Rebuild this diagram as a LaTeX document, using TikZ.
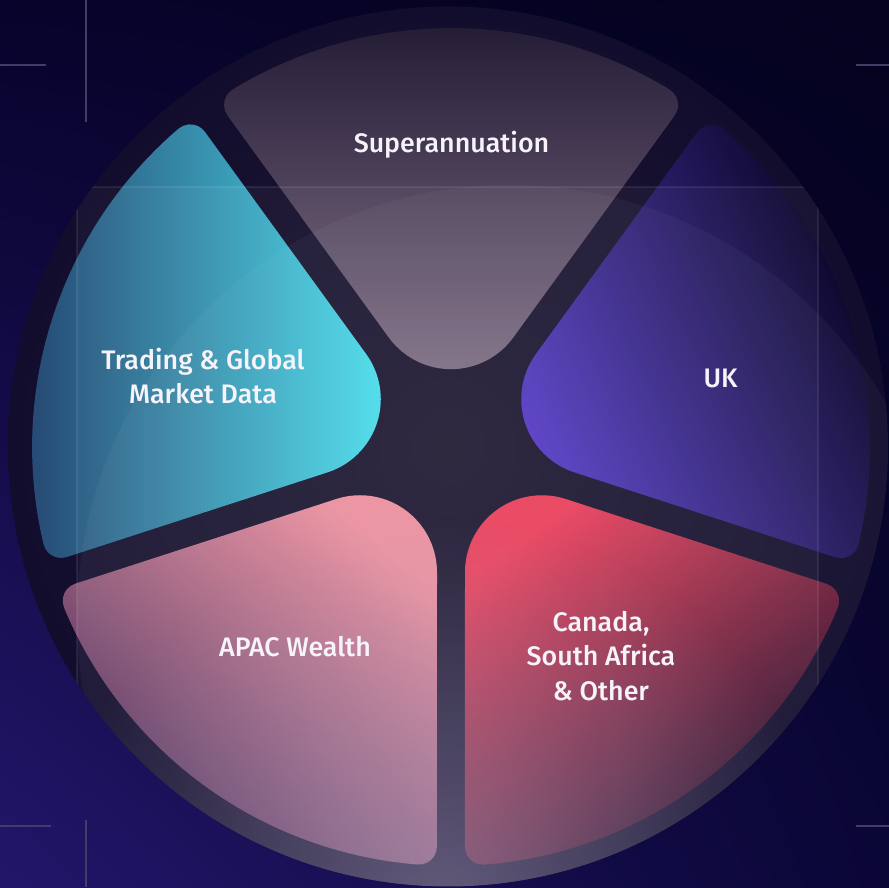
\documentclass[tikz,border=0pt]{standalone}
\usepackage{fontspec}
\setmainfont{Liberation Sans}
\newfontfamily\lblfont{Fira Sans Medium}
\usetikzlibrary{fadings,shadings}
\definecolor{bgTL}{HTML}{07032B}
\definecolor{bgTR}{HTML}{04021E}
\definecolor{bgBL}{HTML}{22166A}
\definecolor{bgBR}{HTML}{0A0636}
\definecolor{discIn}{HTML}{221B33}
\definecolor{discOut}{HTML}{120D2D}
\definecolor{glowc}{HTML}{A498BC}
\definecolor{markc}{HTML}{423C66}
\definecolor{supTop}{HTML}{201832}
\definecolor{supBot}{HTML}{7E6E84}
\definecolor{trdL}{HTML}{24406C}
\definecolor{trdR}{HTML}{4ADDEC}
\definecolor{ukDark}{HTML}{04021A}
\definecolor{ukMid}{HTML}{221858}
\definecolor{ukBright}{HTML}{553BC4}
\definecolor{apBright}{HTML}{EC909F}
\definecolor{apDark}{HTML}{4A2E5C}
\definecolor{caBright}{HTML}{EA405C}
\definecolor{caMid}{HTML}{8A3052}
\definecolor{caDark}{HTML}{140B28}
\definecolor{txtc}{HTML}{F6F3FA}
\tikzfading[name=glowfade, inner color=transparent!50, outer color=transparent!100]
\newcommand\wedgepath[1]{({#1-29.62}:126.03) -- ({#1-34.01}:399.96)
  arc[start angle={#1-126}, end angle={#1-31.42}, radius=18]
  arc[start angle={#1-31.42}, end angle={#1+31.42}, radius=419]
  arc[start angle={#1+31.42}, end angle={#1+126}, radius=18]
  -- ({#1+29.62}:126.03)
  arc[start angle={#1+126}, end angle={#1+234}, radius=77] -- cycle}
\tikzset{
  lbl/.style={text=txtc, font=\lblfont\fontsize{26.8}{34.5}\selectfont, align=center, anchor=base, inner sep=0pt},
  cornerline/.style={draw=markc, line width=1.5pt},
}
\begin{document}
\begin{tikzpicture}[x=1pt,y=1pt]
\useasboundingbox (0,0) rectangle (889,887);
\shade[upper left=bgTL, upper right=bgTR, lower left=bgBL, lower right=bgBR] (0,0) rectangle (889,887);
% corner marks
\draw[cornerline] (0,822) -- (46,822);
\draw[cornerline] (86,887) -- (86,765);
\draw[cornerline] (856,822) -- (889,822);
\draw[cornerline] (0,61) -- (51,61);
\draw[cornerline] (86,67) -- (86,0);
\draw[cornerline] (856,61) -- (889,61);
% big disc
\shade[inner color=discIn, outer color=discOut] (448,440.5) circle (440);
% wedges
\begin{scope}[shift={(451,440)}]
\shade[top color=supTop, bottom color=supBot] \wedgepath{90};
\shade[left color=trdL, right color=trdR] \wedgepath{162};
\shade[top color=ukDark, middle color=ukMid, bottom color=ukBright, shading angle=-65] \wedgepath{18};
\shade[top color=apBright, bottom color=apDark, shading angle=-40] \wedgepath{234};
\shade[top color=caBright, middle color=caMid, bottom color=caDark, shading angle=35] \wedgepath{306};
\end{scope}
% overlays
\begin{scope}
\clip (448,440.5) circle (440);
\fill[glowc, path fading=glowfade] (440,-30) circle (400);
\fill[white, opacity=0.035] (510,269) circle (433);
\fill[white, opacity=0.03] (77,700) rectangle (818,-10);
\draw[white, opacity=0.08, line width=1.5pt] (77,-10) -- (77,700) -- (818,700) -- (818,-10);
\end{scope}
% labels
\node[lbl] (sup) at (451.5,734) {Superannuation};
\node[lbl] (trd) at (203,483) {Trading \& Global\\Market Data};
\node[lbl] (uk) at (720.5,499) {UK};
\node[lbl] (apac) at (295,230) {APAC Wealth};
\node[lbl] (can) at (601,187) {Canada,\\South Africa\\\& Other};
\end{tikzpicture}
\end{document}
